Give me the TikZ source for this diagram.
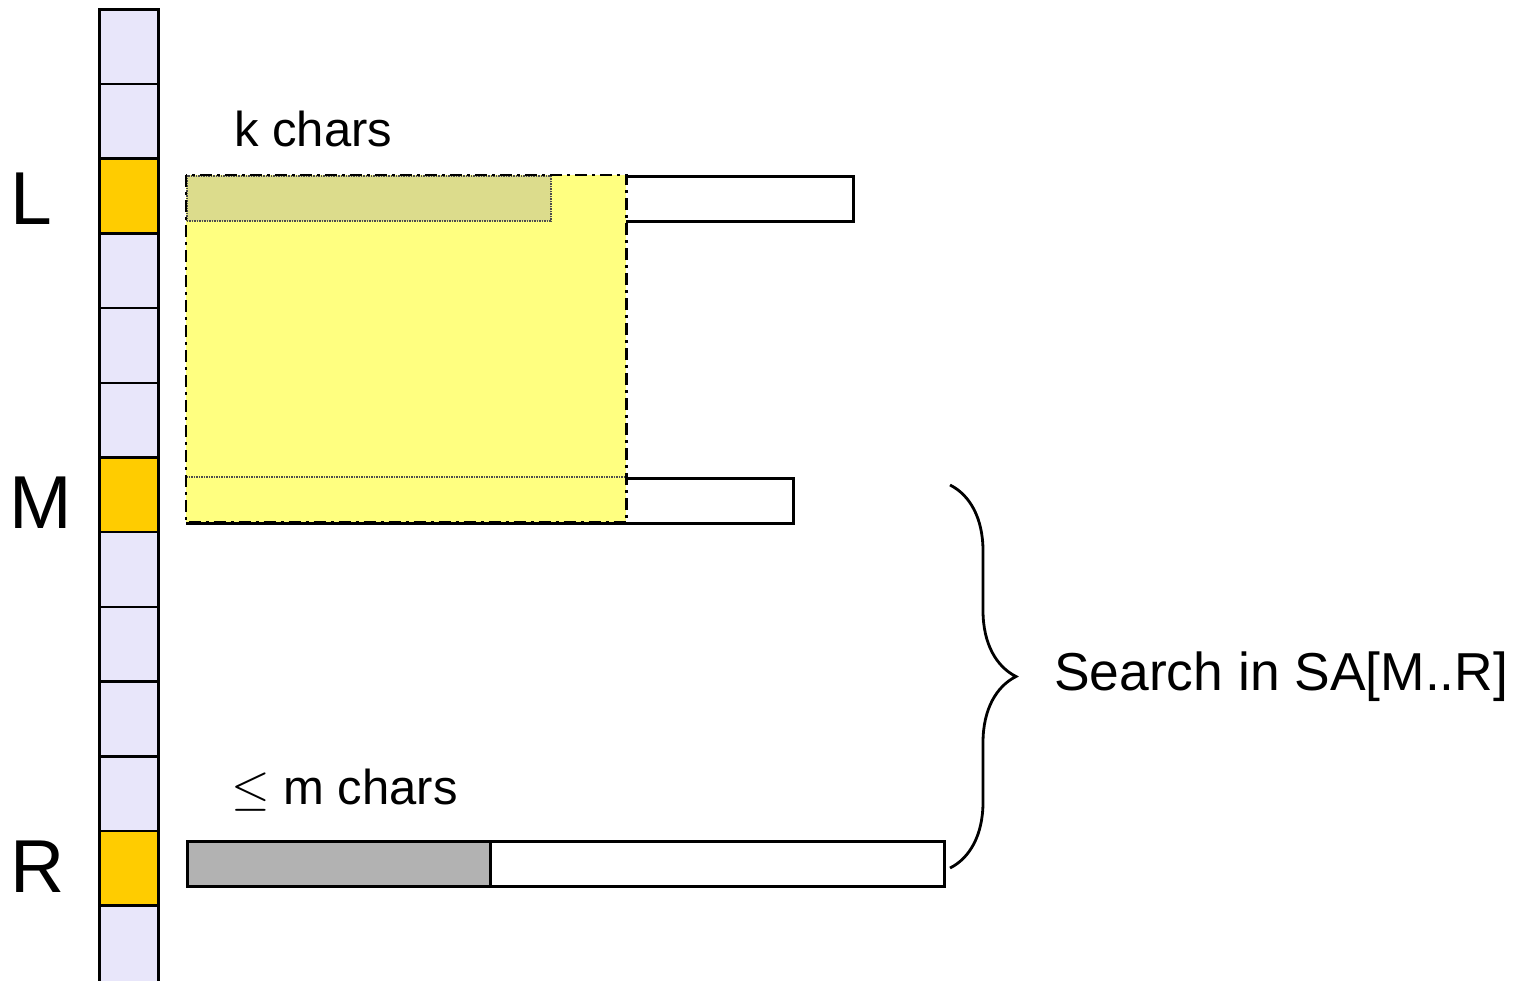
\documentclass[tikz,border=0pt]{standalone}
\usepackage{fontspec}
\setmainfont{Liberation Sans}
\usetikzlibrary{decorations.pathreplacing}
\definecolor{lav}{HTML}{E8E6FA}
\definecolor{gold}{HTML}{FFCC00}
\definecolor{hiyel}{HTML}{FFFF80}
\definecolor{olivegrey}{HTML}{DCDC8C}
\definecolor{midgrey}{HTML}{B2B2B2}
\begin{document}
\begin{tikzpicture}[x=1pt,y=-1pt,
  cell/.style={draw, line width=2.5pt, minimum width=59pt, minimum height=74.7pt, inner sep=0pt, anchor=north west},
  bar/.style={draw, line width=2.5pt, fill=white, inner sep=0pt, anchor=north west, minimum height=45pt},
  biglabel/.style={anchor=base west, inner sep=0pt, font=\fontsize{75}{80}\selectfont},
  txt/.style={anchor=base west, inner sep=0pt, font=\fontsize{49}{56}\selectfont},
  dashdotline/.style={line width=2.5pt, dash pattern=on 12pt off 5pt on 3pt off 5pt}]
\useasboundingbox (0,0) rectangle (1522,980);
% column of cells
\foreach \i/\c in {0/lav,1/lav,2/gold,3/lav,4/lav,5/lav,6/gold,7/lav,8/lav,9/lav,10/lav,11/gold}
  \node[cell, fill=\c] (c\i) at (98,{8+74.7*\i}) {};
\node[cell, fill=lav, minimum height=90pt] (c12) at (98,{8+74.7*12}) {};
% labels
\node[biglabel] (lL) at (10,224) {L};
\node[biglabel] (lM) at (9,528) {M};
\node[biglabel] (lR) at (10,892) {R};
% bars
\node[bar, minimum width=666pt] (Lbar) at (186,175) {};
\node[bar, minimum width=606pt] (Mbar) at (186,477) {};
\node[bar, minimum width=757pt] (Rbar) at (186,840) {};
\node[bar, fill=midgrey, minimum width=303pt] (Rgrey) at (186,840) {};
% yellow region
\node[fill=hiyel, inner sep=0pt, anchor=north west, minimum width=440pt, minimum height=347pt] (yel) at (186,175) {};
\node[fill=olivegrey, draw=black!70, densely dotted, line width=1.5pt, inner sep=0pt, anchor=north west, minimum width=364pt, minimum height=45pt] (Lgrey) at (186,175) {};
\draw[black!70, densely dotted, line width=1.5pt] (yel.west |- Mbar.north) -- (yel.east |- Mbar.north);
\draw[dashdotline] (yel.north west) rectangle (yel.south east);
% texts
\node[txt] (kc) at (234,146) {k chars};
\node[txt] (mc) at (231,804) {\scalebox{2.0}{$\leq$} m chars};
% brace
\coordinate (brT) at (950,485);
\coordinate (brB) at (950,868);
\draw[decorate, decoration={brace, amplitude=66pt}, line width=2.8pt] (brT) -- (brB);
\node[anchor=base west, inner sep=0pt, font=\fontsize{53.4}{60}\selectfont] (search) at (1054,690) {Search in SA[M..R]};
\end{tikzpicture}
\end{document}
